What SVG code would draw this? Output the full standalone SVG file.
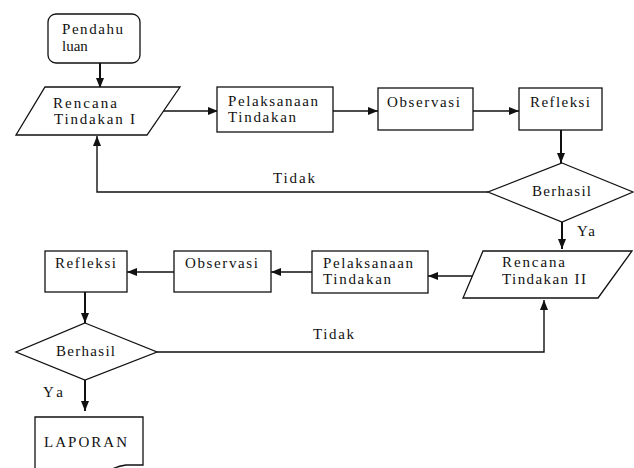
<svg xmlns="http://www.w3.org/2000/svg" width="634" height="468" viewBox="0 0 634 468">
<style>
.s{fill:#fff;stroke:#111;stroke-width:1.3}
.t{font-family:"Liberation Serif","Times New Roman",serif;font-size:15px;fill:#111}
.c{fill:none;stroke:#111;stroke-width:1.4}
.v{stroke-width:2}
</style>
<defs>
<marker id="ah" markerUnits="userSpaceOnUse" markerWidth="10" markerHeight="10" viewBox="0 0 10 10" refX="10" refY="5" orient="auto">
<path d="M0,1 L10,5 L0,9 Z" fill="#111"/>
</marker>
</defs>
<rect width="634" height="468" fill="#fff"/>
<g id="connectors">
<line class="c v" x1="100" y1="63" x2="100" y2="88" marker-end="url(#ah)"/>
<line class="c" x1="163" y1="111" x2="218" y2="111" marker-end="url(#ah)"/>
<line class="c" x1="333" y1="111" x2="378" y2="111" marker-end="url(#ah)"/>
<line class="c" x1="473" y1="111" x2="519" y2="111" marker-end="url(#ah)"/>
<line class="c v" x1="561" y1="130" x2="561" y2="163" marker-end="url(#ah)"/>
<polyline class="c" points="488,192 97,192 97,136" marker-end="url(#ah)"/>
<text class="t" x="273" y="183" textLength="42">Tidak</text>
<line class="c v" x1="562" y1="222" x2="562" y2="249" marker-end="url(#ah)"/>
<text class="t" x="577" y="236" textLength="18">Ya</text>
<line class="c" x1="477" y1="276" x2="428" y2="276" marker-end="url(#ah)"/>
<line class="c" x1="312" y1="272" x2="271" y2="272" marker-end="url(#ah)"/>
<line class="c" x1="174" y1="272" x2="127" y2="272" marker-end="url(#ah)"/>
<line class="c v" x1="85" y1="292" x2="85" y2="323" marker-end="url(#ah)"/>
<polyline class="c" points="157,352 544,352 544,300" marker-end="url(#ah)"/>
<text class="t" x="313" y="339" textLength="41">Tidak</text>
<line class="c v" x1="85" y1="380" x2="85" y2="411" marker-end="url(#ah)"/>
<text class="t" x="43" y="397" textLength="20">Ya</text>
</g>
<g id="pendahuluan">
<rect class="s" x="48" y="14" width="92" height="49" rx="8"/>
<text class="t" x="62" y="34" textLength="61">Pendahu</text>
<text class="t" x="62" y="51">luan</text>
</g>
<g id="rencana1">
<polygon class="s" points="45,87 180,87 147,135 16,135"/>
<text class="t" x="53" y="108" textLength="64">Rencana</text>
<text class="t" x="54" y="124" textLength="81">Tindakan  I</text>
</g>
<g id="pelaksanaan1">
<rect class="s" x="217" y="87" width="116" height="45"/>
<text class="t" x="228" y="106" textLength="90">Pelaksanaan</text>
<text class="t" x="228" y="122" textLength="68">Tindakan</text>
</g>
<g id="observasi1">
<rect class="s" x="378" y="88" width="95" height="42"/>
<text class="t" x="387" y="107" textLength="73">Observasi</text>
</g>
<g id="refleksi1">
<rect class="s" x="519" y="88" width="83" height="42"/>
<text class="t" x="530" y="107" textLength="60">Refleksi</text>
</g>
<g id="berhasil1">
<polygon class="s" points="562,163 633,192 562,222 488,192"/>
<text class="t" x="532" y="196" textLength="59">Berhasil</text>
</g>
<g id="rencana2">
<polygon class="s" points="483,251 632,251 598,298 463,298"/>
<text class="t" x="502" y="267" textLength="63">Rencana</text>
<text class="t" x="502" y="284" textLength="84">Tindakan II</text>
</g>
<g id="pelaksanaan2">
<rect class="s" x="312" y="251" width="116" height="42"/>
<text class="t" x="323" y="268" textLength="90">Pelaksanaan</text>
<text class="t" x="323" y="284" textLength="68">Tindakan</text>
</g>
<g id="observasi2">
<rect class="s" x="174" y="251" width="97" height="41"/>
<text class="t" x="185" y="268" textLength="73">Observasi</text>
</g>
<g id="refleksi2">
<rect class="s" x="45" y="251" width="82" height="41"/>
<text class="t" x="55" y="268" textLength="61">Refleksi</text>
</g>
<g id="berhasil2">
<polygon class="s" points="85,323 157,352 85,380 16,352"/>
<text class="t" x="56" y="356" textLength="59">Berhasil</text>
</g>
<g id="laporan">
<path class="s" d="M35,470 L35,417 L143,417 L143,465 L126,465 Q118,466 110,470"/>
<text class="t" x="44" y="447" textLength="83">LAPORAN</text>
</g>
</svg>
